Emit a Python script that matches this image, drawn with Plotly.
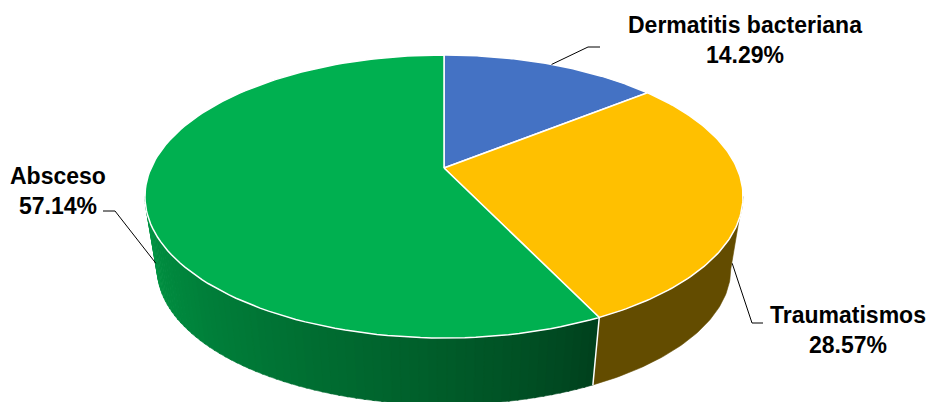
import numpy as np
import plotly.graph_objects as go

# Diagnósticos y número de casos
categories = ["Dermatitis bacteriana", "Traumatismos", "Absceso"]
counts = [1, 2, 4]

# Colores de la cara superior y del lateral
top_colors = ["#4472C4", "#FFC000", "#00B050"]
side_colors = ["#2A4779", "#634C00", "#00B050"]

# Geometría del pastel en perspectiva (píxeles del lienzo)
W, H = 934, 402
CX, CY = 444, 168          # centro del pastel
A, B, K = 292.9, 135.8, 0.2014   # semiejes y factor de perspectiva
S, D = 0.959, 73.6         # escala y desplazamiento de la base
LEADER_FRAC = 0.88

# Posición de las etiquetas y de los codos de las líneas guía
label_pos = [(745, 40), (848, 330), (58, 191)]
knee_pos = [(588, 47), (752, 323), (115, 211)]
elbow_pos = [(600, 47), (763, 323), (103, 211)]
FONT = "Liberation Sans, Arial, sans-serif"


def top_pt(theta, r=1.0):
    t = np.radians(theta)
    X = r * np.sin(t)
    Y = r * np.cos(t)
    w = 1 + K * Y
    return CX + A * X / w, CY - B * Y / w


def bot_pt(theta):
    x, y = top_pt(theta)
    return CX + S * (x - CX), CY + D + S * (y - CY)


def arc(fn, a, b, n):
    th = np.linspace(a, b, n)
    pts = [fn(t) for t in th]
    return [p[0] for p in pts], [p[1] for p in pts]


def shade(hex_color, f):
    h = hex_color.lstrip("#")
    r, g, b = (int(h[i:i + 2], 16) for i in (0, 2, 4))
    return "rgb(%d,%d,%d)" % (r * f, g * f, b * f)


total = sum(counts)
bounds = np.concatenate([[0], np.cumsum(counts) / total * 360.0])
pcts = [c / total * 100 for c in counts]

vis_lo = np.degrees(np.arccos(-K))
vis_hi = 360 - vis_lo

fig = go.Figure()

# Laterales visibles
for i in range(len(counts)):
    a = max(bounds[i], vis_lo)
    b = min(bounds[i + 1], vis_hi)
    if a >= b:
        continue
    if i == 2:
        # lateral con degradado: tiras finas
        n = 70
        edges = np.linspace(a, b, n + 1)
        for j in range(n):
            t0, t1 = edges[j], min(edges[j + 1] + 0.3, b)
            u = (j + 0.5) / n
            f = 0.36 + (0.86 - 0.36) * (u ** 0.8)
            tx, ty = arc(top_pt, t0, t1, 4)
            bx, by = arc(bot_pt, t1, t0, 4)
            c = shade(side_colors[i], f)
            fig.add_trace(go.Scatter(
                x=tx + bx + [tx[0]], y=ty + by + [ty[0]], mode="lines",
                fill="toself", fillcolor=c, line=dict(color=c, width=0.6),
                hoverinfo="skip"))
    else:
        tx, ty = arc(top_pt, a, b, 60)
        bx, by = arc(bot_pt, b, a, 60)
        fig.add_trace(go.Scatter(
            x=tx + bx + [tx[0]], y=ty + by + [ty[0]], mode="lines",
            fill="toself", fillcolor=side_colors[i],
            line=dict(color=side_colors[i], width=0.6), hoverinfo="skip"))

# Juntas blancas entre laterales
for i in range(1, len(counts)):
    t = bounds[i]
    if vis_lo < t < vis_hi:
        x0, y0 = top_pt(t)
        x1, y1 = bot_pt(t)
        fig.add_trace(go.Scatter(x=[x0, x1], y=[y0, y1], mode="lines",
                                 line=dict(color="white", width=1.5),
                                 hoverinfo="skip"))

# Caras superiores
for i in range(len(counts)):
    ax, ay = arc(top_pt, bounds[i], bounds[i + 1], 120)
    fig.add_trace(go.Scatter(
        x=[CX] + ax + [CX], y=[CY] + ay + [CY], mode="lines",
        fill="toself", fillcolor=top_colors[i],
        line=dict(color="white", width=1.5), hoverinfo="skip"))

# Etiquetas y líneas guía
for i, cat in enumerate(categories):
    mid = (bounds[i] + bounds[i + 1]) / 2
    if vis_lo <= mid <= vis_hi:
        x0, y0 = top_pt(mid)
        x1, y1 = bot_pt(mid)
        px, py = x0 + LEADER_FRAC * (x1 - x0), y0 + LEADER_FRAC * (y1 - y0)
    else:
        px, py = top_pt(mid)
    fig.add_trace(go.Scatter(
        x=[px, knee_pos[i][0], elbow_pos[i][0]],
        y=[py, knee_pos[i][1], elbow_pos[i][1]],
        mode="lines", line=dict(color="black", width=1), hoverinfo="skip"))
    fig.add_annotation(
        x=label_pos[i][0], y=label_pos[i][1], xref="x", yref="y",
        text="<b>%s<br>%.2f%%</b>" % (cat, pcts[i]), showarrow=False,
        xanchor="center", yanchor="middle", align="center",
        font=dict(family=FONT, size=23, color="black"))

fig.update_layout(
    width=W, height=H, margin=dict(l=0, r=0, t=0, b=0),
    paper_bgcolor="white", plot_bgcolor="white", showlegend=False,
    xaxis=dict(range=[0, W], visible=False, fixedrange=True),
    yaxis=dict(range=[H, 0], visible=False, fixedrange=True),
)

fig.write_html("out.html")
